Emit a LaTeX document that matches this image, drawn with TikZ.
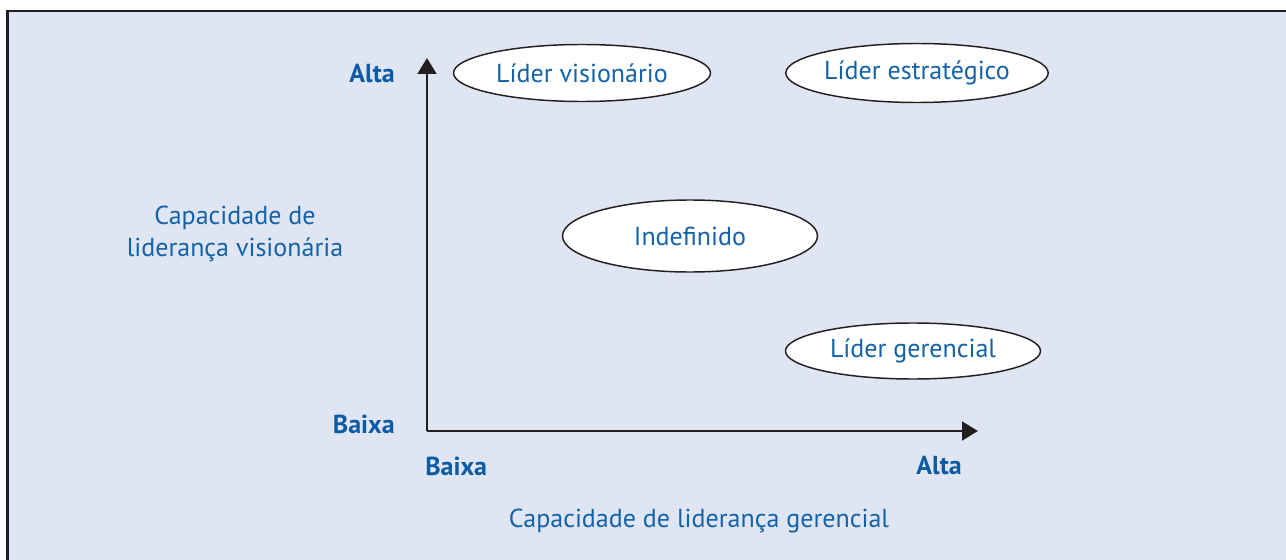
\documentclass[tikz,border=0pt]{standalone}
\usepackage{fontspec}
\setmainfont{PT Sans}
\usetikzlibrary{shapes.geometric,arrows.meta}
\definecolor{bgblue}{HTML}{DFE5F3}
\definecolor{txtblue}{HTML}{1462A8}
\definecolor{lblblue}{HTML}{0D5CA3}
\definecolor{axisgray}{HTML}{231F20}
\tikzset{
  quad/.style={ellipse, draw=axisgray, line width=1.1pt, fill=white, inner sep=0pt,
    text=txtblue, font=\fontsize{19.5}{22}\selectfont},
  lvl/.style={text=lblblue, font=\fontsize{19.5}{22}\selectfont\bfseries, inner sep=0pt},
  axtitle/.style={text=txtblue, font=\fontsize{19.5}{24}\selectfont, align=center, inner sep=0pt},
  axis/.style={line width=2.2pt, draw=axisgray, -{Triangle[length=12pt,width=14pt]}}
}
\begin{document}
\begin{tikzpicture}[x=0.75pt,y=-0.75pt]
\useasboundingbox (0,0) rectangle (1286,560);
\fill[bgblue] (7.5,11) rectangle (1290,565);
\draw[line width=2.2pt, draw=axisgray] (7.5,570) -- (7.5,11) -- (1295,11);
\coordinate (O) at (427,431);
\coordinate (ytip) at (427,58);
\coordinate (xtip) at (978,431);
\draw[axis] (O) -- (ytip);
\draw[axis] (O) -- (xtip);
\node[quad, minimum width=257*0.75pt, minimum height=57*0.75pt] (vis) at (582,73) {Líder visionário};
\node[quad, minimum width=256*0.75pt, minimum height=59*0.75pt] (est) at (917,73) {Líder estratégico};
\node[quad, minimum width=255*0.75pt, minimum height=72*0.75pt] (ind) at (690,236) {Indefinido};
\node[quad, minimum width=255*0.75pt, minimum height=56*0.75pt] (ger) at (913,351) {Líder gerencial};
\node[lvl, anchor=east] (yalta) at (395,74) {Alta};
\node[lvl, anchor=east] (ybaixa) at (395,424) {Baixa};
\node[lvl, anchor=west] (xbaixa) at (425,466) {Baixa};
\node[lvl, anchor=east] (xalta) at (962,466) {Alta};
\node[axtitle] (ytitle) at (235,234) {Capacidade de\\liderança visionária};
\node[axtitle] (xtitle) at (699,521) {Capacidade de liderança gerencial};
\end{tikzpicture}
\end{document}
